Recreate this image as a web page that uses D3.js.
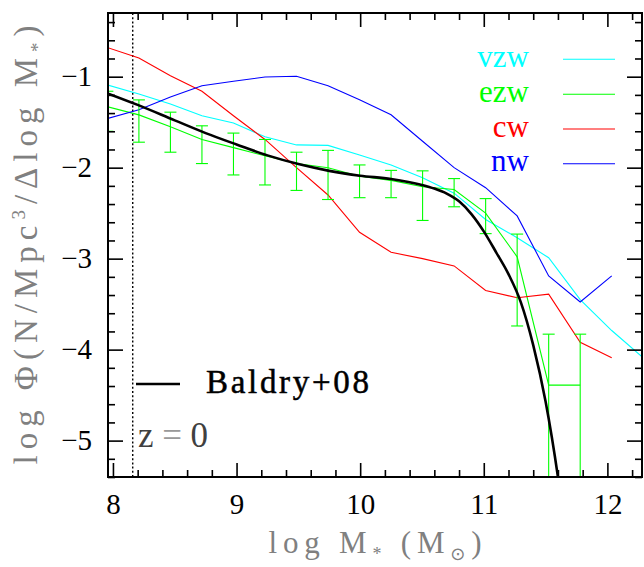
<!DOCTYPE html>
<html>
<head>
<meta charset="utf-8">
<script src="https://cdn.jsdelivr.net/npm/d3@7/dist/d3.min.js"></script>
<style>
  html, body { margin: 0; padding: 0; background: #fff; }
  svg { display: block; }
  text { font-family: "Liberation Serif", "DejaVu Serif", serif; }
</style>
</head>
<body>
<svg id="chart" width="644" height="567"></svg>
<script>
// ---- data ----
const massBins = [7.955, 8.21, 8.465, 8.72, 8.975, 9.23, 9.485, 9.74, 9.995, 10.25, 10.505, 10.76, 11.015, 11.27, 11.525, 11.78, 12.035, 12.29];
const vzw  = [-1.09, -1.19, -1.30, -1.43, -1.51, -1.66, -1.75, -1.755, -1.86, -1.97, -2.11, -2.28, -2.57, -2.77, -2.99, -3.45, -3.79, -4.09];
const ezw  = [-1.33, -1.42, -1.55, -1.69, -1.78, -1.87, -1.955, -2.00, -2.095, -2.14, -2.21, -2.24, -2.50, -2.98, -4.39, -4.39, null, null];
const ezwHi = [-1.16, -1.255, -1.39, -1.54, -1.62, -1.69, -1.83, -1.81, -1.97, -2.03, -2.035, -2.12, -2.34, -2.73, -3.83, -3.83, null, null];
const ezwLo = [-1.60, -1.72, -1.83, -1.955, -2.08, -2.19, -2.25, -2.35, -2.33, -2.33, -2.58, -2.43, -2.725, -3.74, -6.0, -6.0, null, null];
const cw   = [-0.68, -0.795, -0.99, -1.16, -1.43, -1.69, -2.00, -2.30, -2.71, -2.93, -3.00, -3.08, -3.35, -3.43, -3.39, -3.92, -4.09, null];
const nw   = [-1.46, -1.363, -1.223, -1.10, -1.05, -1.004, -0.996, -1.10, -1.253, -1.418, -1.71, -2.00, -2.22, -2.53, -3.19, -3.476, -3.19, null];
const baldryMass = [7.95, 8.2, 8.5, 8.75, 9.0, 9.25, 9.5, 9.75, 10.0, 10.25, 10.5, 10.6, 10.7, 10.8, 10.9, 11.0, 11.1, 11.2, 11.3, 11.4, 11.5, 11.6, 11.65];
const baldryPhi  = [-1.18, -1.31, -1.48, -1.62, -1.745, -1.865, -1.96, -2.035, -2.088, -2.124, -2.19, -2.23, -2.285, -2.37, -2.51, -2.70, -2.93, -3.17, -3.48, -3.95, -4.57, -5.40, -5.9];
const massLimit = 8.16;
const xTickValues = [8, 9, 10, 11, 12];
const yTickValues = [-1, -2, -3, -4, -5];
const seriesNames = ["vzw", "ezw", "cw", "nw"];
const seriesColors = ["#00ffff", "#00ff00", "#ff0000", "#0000ff"];

// ---- layout ----
const L = 108, R = 642, T = 13, B = 477;
const svg = d3.select("#chart");

const x = d3.scaleLinear().domain([7.96, 12.28]).range([L, R]);
const y = d3.scaleLinear().domain([-0.3, -5.4]).range([T, B]);

svg.append("defs").append("clipPath").attr("id", "clip")
  .append("rect").attr("x", L).attr("y", T).attr("width", R - L).attr("height", B - T);

const plot = svg.append("g").attr("clip-path", "url(#clip)");

function series(vals) {
  return massBins.map((m, i) => ({ m, v: vals[i] }));
}
const line = d3.line().defined(d => d.v !== null).x(d => x(d.m)).y(d => y(d.v));

// dotted completeness line
plot.append("line")
  .attr("x1", x(massLimit)).attr("x2", x(massLimit))
  .attr("y1", T).attr("y2", B)
  .attr("stroke", "#000").attr("stroke-width", 1.4)
  .attr("stroke-dasharray", "2,2.2");

const allSeries = [vzw, ezw, cw, nw];
allSeries.forEach((vals, k) => {
  plot.append("path")
    .datum(series(vals))
    .attr("d", line)
    .attr("fill", "none")
    .attr("stroke", seriesColors[k])
    .attr("stroke-width", 1.1);
});

// ezw error bars
const capW = 6;
const eb = plot.append("g").attr("stroke", "#00ff00").attr("stroke-width", 1.1);
massBins.forEach((m, i) => {
  if (ezwHi[i] === null) return;
  const cx = x(m);
  eb.append("line").attr("x1", cx).attr("x2", cx).attr("y1", y(ezwHi[i])).attr("y2", y(ezwLo[i]));
  eb.append("line").attr("x1", cx - capW).attr("x2", cx + capW).attr("y1", y(ezwHi[i])).attr("y2", y(ezwHi[i]));
  eb.append("line").attr("x1", cx - capW).attr("x2", cx + capW).attr("y1", y(ezwLo[i])).attr("y2", y(ezwLo[i]));
});

// Baldry+08
plot.append("path")
  .datum(baldryMass.map((m, i) => ({ m, v: baldryPhi[i] })))
  .attr("d", d3.line().x(d => x(d.m)).y(d => y(d.v)).curve(d3.curveMonotoneX))
  .attr("fill", "none").attr("stroke", "#000").attr("stroke-width", 2.6);

// ---- axes ----
const minorX = d3.range(8, 12.3, 0.2).filter(v => Math.abs(v - Math.round(v)) > 1e-6);
const minorY = d3.range(-0.4, -5.41, -0.2).filter(v => Math.abs(v - Math.round(v)) > 1e-6);

function styleAxis(g) {
  g.select(".domain").remove();
  g.selectAll(".tick line").attr("stroke", "#000").attr("stroke-width", 1.6);
}

svg.append("g").attr("transform", `translate(0,${B})`)
  .call(d3.axisBottom(x).tickValues(xTickValues).tickSize(-14).tickPadding(16).tickFormat(d3.format("d")))
  .call(styleAxis)
  .call(g => g.selectAll(".tick text").attr("font-size", 29).attr("fill", "#000"));
svg.append("g").attr("transform", `translate(0,${B})`)
  .call(d3.axisBottom(x).tickValues(minorX).tickSize(-7).tickFormat(""))
  .call(styleAxis);
svg.append("g").attr("transform", `translate(0,${T})`)
  .call(d3.axisTop(x).tickValues(xTickValues).tickSize(-14).tickFormat(""))
  .call(styleAxis);
svg.append("g").attr("transform", `translate(0,${T})`)
  .call(d3.axisTop(x).tickValues(minorX).tickSize(-7).tickFormat(""))
  .call(styleAxis);

svg.append("g").attr("transform", `translate(${L},0)`)
  .call(d3.axisLeft(y).tickValues(yTickValues).tickSize(-15).tickPadding(16).tickFormat(d3.format("d")))
  .call(styleAxis)
  .call(g => g.selectAll(".tick text").attr("font-size", 29).attr("fill", "#000"));
svg.append("g").attr("transform", `translate(${L},0)`)
  .call(d3.axisLeft(y).tickValues(minorY).tickSize(-7).tickFormat(""))
  .call(styleAxis);
svg.append("g").attr("transform", `translate(${R},0)`)
  .call(d3.axisRight(y).tickValues(yTickValues).tickSize(-15).tickFormat(""))
  .call(styleAxis);
svg.append("g").attr("transform", `translate(${R},0)`)
  .call(d3.axisRight(y).tickValues(minorY).tickSize(-7).tickFormat(""))
  .call(styleAxis);

// frame
svg.append("rect").attr("x", L).attr("y", T).attr("width", R - L).attr("height", B - T)
  .attr("fill", "none").attr("stroke", "#000").attr("stroke-width", 2);

// ---- titles ----
const grey = "#808080";
const xt = svg.append("text").attr("x", (L + R) / 2).attr("y", 553)
  .attr("text-anchor", "middle").attr("font-size", 31).attr("fill", grey)
  .attr("textLength", 213).attr("lengthAdjust", "spacing");
xt.append("tspan").text("log M");
xt.append("tspan").attr("font-size", 18).attr("dy", 7).text("*");
xt.append("tspan").attr("dy", -7).text(" (M");
xt.append("tspan").attr("font-size", 18).attr("dy", 7).attr("font-family", "DejaVu Sans").text("\u2299");
xt.append("tspan").attr("dy", -7).text(")");

const yt = svg.append("text")
  .attr("transform", `translate(37,${(T + B) / 2}) rotate(-90)`)
  .attr("text-anchor", "middle").attr("font-size", 33).attr("fill", grey)
  .attr("textLength", 439).attr("lengthAdjust", "spacing");
yt.append("tspan").text("log \u03A6(N/Mpc");
yt.append("tspan").attr("font-size", 19).attr("dy", -12).text("3");
yt.append("tspan").attr("dy", 12).text("/\u0394log M");
yt.append("tspan").attr("font-size", 19).attr("dy", 7).text("*");
yt.append("tspan").attr("dy", -7).text(")");

// ---- legend ----
const legY = [59.3, 94.3, 129, 163.7];
seriesNames.forEach((name, k) => {
  svg.append("text").attr("x", 529).attr("y", legY[k] + 7.5)
    .attr("text-anchor", "end").attr("font-size", 31).attr("fill", seriesColors[k]).text(name);
  svg.append("line").attr("x1", 563).attr("x2", 615).attr("y1", legY[k]).attr("y2", legY[k])
    .attr("stroke", seriesColors[k]).attr("stroke-width", 1.1);
});

svg.append("line").attr("x1", 136).attr("x2", 180).attr("y1", 384).attr("y2", 384)
  .attr("stroke", "#000").attr("stroke-width", 2.6);
svg.append("text").attr("x", 206).attr("y", 393).attr("font-size", 33).attr("fill", "#000")
  .attr("textLength", 163).attr("lengthAdjust", "spacing").attr("stroke", "#000").attr("stroke-width", 0.5)
  .text("Baldry+08");

const zt = svg.append("text").attr("x", 138).attr("y", 447).attr("font-size", 35)
  .attr("textLength", 70).attr("lengthAdjust", "spacing");
zt.append("tspan").attr("fill", "#404040").text("z");
zt.append("tspan").attr("fill", "#999").text("=");
zt.append("tspan").attr("fill", "#404040").text("0");
</script>
</body>
</html>
